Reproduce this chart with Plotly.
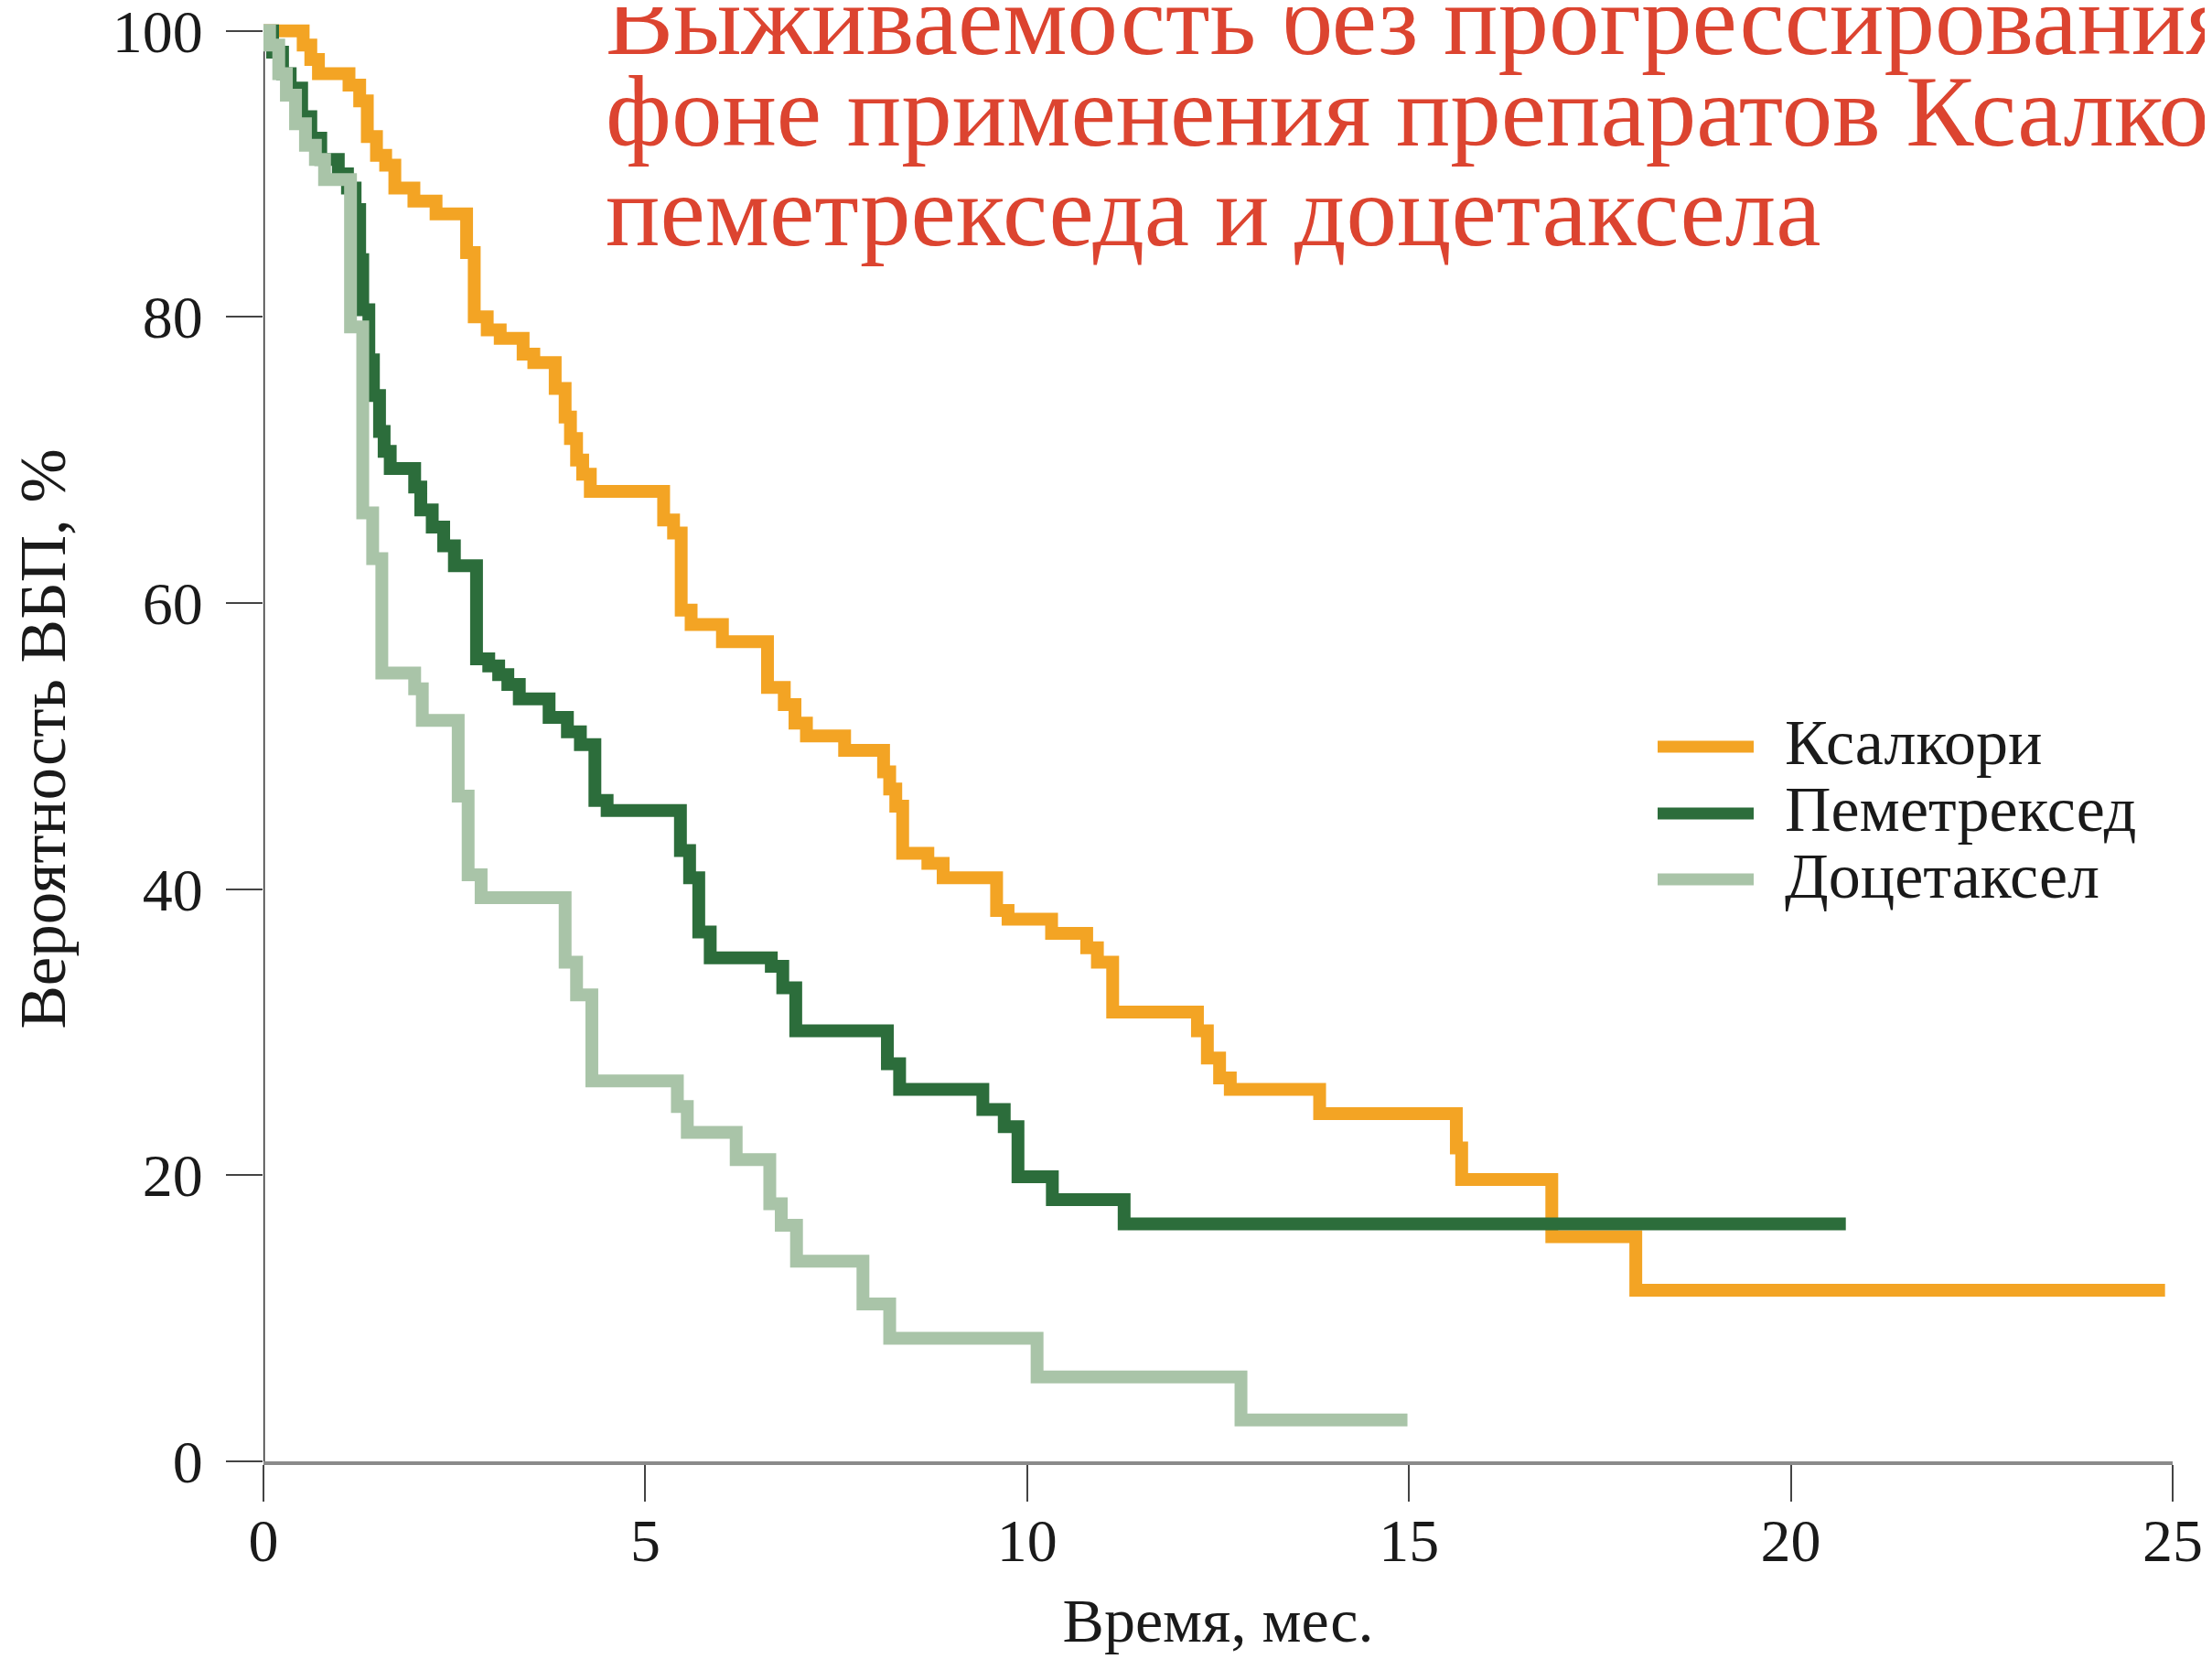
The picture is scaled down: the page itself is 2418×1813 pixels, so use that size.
import plotly.graph_objects as go

# ---------------- data ----------------
series_names = ["Ксалкори", "Пеметрексед", "Доцетаксел"]

xalkori_t = [0, 0.52, 0.62, 0.72, 1.12, 1.26, 1.36, 1.48, 1.6, 1.72, 1.97, 2.26, 2.66, 2.76,
             2.93, 3.1, 3.4, 3.54, 3.82, 3.95, 4.02, 4.1, 4.18, 4.28, 5.24, 5.37, 5.47, 5.6,
             6.01, 6.6, 6.82, 6.96, 7.11, 7.61, 8.12, 8.2, 8.28, 8.37, 8.7, 8.9, 9.6, 9.75,
             10.32, 10.78, 10.92, 11.12, 12.23, 12.36, 12.52, 12.66, 13.83, 15.62, 15.69,
             16.87, 17.97, 24.9]
xalkori_s = [100, 99, 98, 97, 96.2, 95.1, 92.6, 91.3, 90.6, 89, 88.1, 87.2, 84.5, 80,
             79.1, 78.5, 77.4, 76.8, 75, 73, 71.5, 70, 69, 67.8, 65.8, 64.9, 59.5, 58.5,
             57.3, 54.1, 52.9, 51.6, 50.7, 49.7, 48.2, 47, 45.8, 42.5, 41.8, 40.8, 38.5, 37.9,
             36.9, 35.9, 34.9, 31.4, 30.1, 28.2, 26.8, 26, 24.3, 21.9, 19.7,
             15.7, 11.96, 11.96]

pemetrexed_t = [0, 0.12, 0.25, 0.35, 0.5, 0.62, 0.75, 0.98, 1.1, 1.2, 1.26, 1.3, 1.38, 1.44,
                1.52, 1.58, 1.66, 1.98, 2.06, 2.21, 2.36, 2.5, 2.79, 2.95, 3.08, 3.2, 3.35,
                3.74, 3.98, 4.15, 4.34, 4.5, 5.46, 5.58, 5.7, 5.85, 6.65, 6.8, 6.97, 8.17,
                8.33, 9.42, 9.7, 9.88, 10.33, 11.27, 20.72]
pemetrexed_s = [100, 98.5, 97, 96, 94, 92.5, 91, 90, 89, 87.5, 84, 80.5, 77, 74.5,
                72, 70.6, 69.4, 68.1, 66.5, 65.3, 64, 62.6, 56.1, 55.6, 55, 54.3, 53.3,
                52, 51, 50.1, 46.2, 45.5, 42.7, 40.8, 37, 35.2, 34.6, 33.1, 30.1, 27.8,
                26, 24.6, 23.4, 19.9, 18.3, 16.6, 16.6]

docetaxel_t = [0, 0.08, 0.2, 0.3, 0.42, 0.55, 0.68, 0.8, 1.14, 1.3, 1.43, 1.55, 1.98, 2.08,
               2.55, 2.68, 2.85, 3.95, 4.1, 4.3, 5.42, 5.55, 6.19, 6.63, 6.78, 6.98, 7.85,
               8.2, 10.13, 12.8, 14.98]
docetaxel_s = [100, 99, 97, 95.5, 93.5, 92, 91, 89.6, 79.3, 66.3, 63.1, 55.1, 54, 51.8,
               46.5, 41, 39.4, 34.9, 32.6, 26.6, 24.8, 23, 21.1, 18, 16.5, 14, 11,
               8.6, 5.9, 2.9, 2.9]

x_ticks = [0, 5, 10, 15, 20, 25]
y_ticks = [0, 20, 40, 60, 80, 100]

title_lines = ["Выживаемость без прогрессирования на",
               "фоне применения препаратов Ксалкори,",
               "пеметрекседа и доцетаксела"]
x_title = "Время, мес."
y_title = "Вероятность ВБП, %"

colors = ["#F3A424", "#2C6D3B", "#A9C4A8"]

# ---------------- layout geometry (screen pixels) ----------------
OFF = 8                      # default page body margin
W, H = 2418 - OFF, 1813 - OFF
PLOT_L, PLOT_R, PLOT_T, PLOT_B = 288, 2375, 18, 1597   # screen coords of plot area
ML = PLOT_L - OFF
MT = PLOT_T - OFF
MR = (2418 - OFF) - (PLOT_R - OFF)
MB = (1813 - OFF) - (PLOT_B - OFF)
PW, PH = PLOT_R - PLOT_L, PLOT_B - PLOT_T


def px_x(X):
    return (X - PLOT_L) / PW


def px_y(Y):
    return (PLOT_B - Y) / PH


SERIF = "Liberation Serif"

fig = go.Figure()
for name, t, s, c in zip(series_names,
                         [xalkori_t, pemetrexed_t, docetaxel_t],
                         [xalkori_s, pemetrexed_s, docetaxel_s],
                         colors):
    fig.add_trace(go.Scatter(x=t, y=s, mode="lines", name=name,
                             line=dict(shape="hv", width=14, color=c),
                             showlegend=False))

annotations = []
shapes = []

# legend drawn manually (sample line + label)
legend_rows_Y = [816, 889, 961]
for name, c, Y in zip(series_names, colors, legend_rows_Y):
    shapes.append(dict(type="line", xref="paper", yref="paper",
                       x0=px_x(1812), x1=px_x(1917), y0=px_y(Y), y1=px_y(Y),
                       line=dict(color=c, width=13)))
    annotations.append(dict(text=name, xref="paper", yref="paper",
                            x=px_x(1949), y=px_y(Y - 4), xanchor="left", yanchor="middle",
                            showarrow=False, font=dict(family=SERIF, size=70, color="#1a1a1a")))

# title (three lines, partially cut by the image edge as in the reference)
for line, Yc in zip(title_lines, [22, 121, 230]):
    annotations.append(dict(text=line, xref="paper", yref="paper",
                            x=px_x(660), y=px_y(Yc), xanchor="left", yanchor="middle",
                            showarrow=False,
                            font=dict(family=SERIF, size=111, color="#DC4430")))

# y axis line from 0 to 100
shapes.append(dict(type="line", xref="x", yref="y", x0=0, x1=0, y0=0, y1=100,
                   line=dict(color="#333333", width=3), layer="below"))

fig.update_layout(
    width=W, height=H,
    margin=dict(l=ML, r=MR, t=MT, b=MB, autoexpand=False),
    paper_bgcolor="white", plot_bgcolor="white",
    showlegend=False,
    font=dict(family=SERIF, color="#1a1a1a"),
    annotations=annotations,
    shapes=shapes,
    xaxis=dict(range=[0, 25], tickvals=x_ticks, ticktext=[str(v) for v in x_ticks],
               showgrid=False, zeroline=False,
               showline=True, linecolor="#8a8a8a", linewidth=4,
               ticks="outside", ticklen=40, tickwidth=2, tickcolor="#444444",
               ticklabelstandoff=-14,
               tickfont=dict(family=SERIF, size=66, color="#1a1a1a"),
               title=dict(text=x_title, standoff=28,
                          font=dict(family=SERIF, size=68, color="#1a1a1a"))),
    yaxis=dict(range=[0, 101], tickvals=y_ticks, ticktext=[str(v) for v in y_ticks],
               showgrid=False, zeroline=False, showline=False,
               ticks="outside", ticklen=40, tickwidth=2, tickcolor="#444444",
               ticklabelstandoff=12, ticklabeloverflow="allow",
               tickfont=dict(family=SERIF, size=66, color="#1a1a1a"),
               title=dict(text=y_title, standoff=68,
                          font=dict(family=SERIF, size=71, color="#1a1a1a"))),
)

fig.write_html("out.html")
